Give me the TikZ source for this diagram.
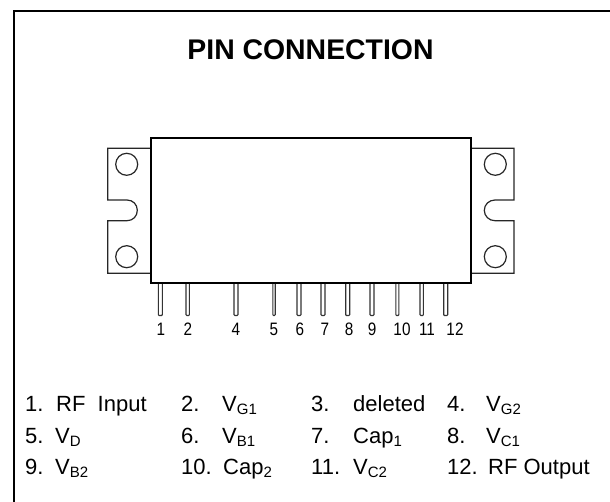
\documentclass[tikz,border=0pt]{standalone}
\usepackage{fontspec}
\setmainfont{Liberation Sans}
\newcommand\lowtxt[1]{\raisebox{-3pt}{\fontsize{15}{15}\selectfont #1}}
\tikzset{
  frameline/.style={line width=2pt,black},
  bodyline/.style={line width=1.8pt,black},
  earline/.style={line width=1.2pt,black!85},
  pinline/.style={line width=1.1pt,black!80,fill=white,rounded corners=0.8pt},
  titletxt/.style={inner sep=0pt,font=\fontsize{28.4}{30}\selectfont\bfseries},
  pinnum/.style={inner sep=0pt,anchor=base,xscale=0.85,font=\fontsize{18}{18}\selectfont},
  listtxt/.style={inner sep=0pt,anchor=base west,font=\fontsize{22}{24}\selectfont},
}
\begin{document}
\begin{tikzpicture}[x=1pt,y=-1pt]
\useasboundingbox (0,0) rectangle (610,502);
\draw[frameline] (13.5,502) -- (13.5,11.5) -- (610,11.5);
\node[titletxt] (title) at (310.5,50) {PIN CONNECTION};
% ears
\draw[earline] (151,148.3) -- (107.7,148.3) -- (107.7,200) -- (127,200)
  .. controls (133,200) and (137.3,204.5) .. (137.3,210.35)
  .. controls (137.3,216.2) and (133,220.7) .. (127,220.7)
  -- (107.7,220.7) -- (107.7,273.3) -- (151,273.3);
\draw[earline] (471,148.3) -- (514,148.3) -- (514,200) -- (495,200)
  .. controls (489,200) and (484.3,204.5) .. (484.3,210.35)
  .. controls (484.3,216.2) and (489,220.7) .. (495,220.7)
  -- (514,220.7) -- (514,273.3) -- (471,273.3);
\draw[earline] (126.7,164.3) circle[radius=11pt];
\draw[earline] (126.7,256.7) circle[radius=11pt];
\draw[earline] (495.3,164.3) circle[radius=11pt];
\draw[earline] (495.3,256.7) circle[radius=11pt];
% pins
\foreach \px/\hw in {160.3/2,187.7/1.7,236/2,274/1.2,299/2,323/2,347.7/2,372/2,397.3/1.5,421.7/1.7,445.7/2}{
  \draw[pinline] (\px-\hw,283) -- (\px-\hw,315.5) -- (\px+\hw,315.5) -- (\px+\hw,283);
}
% body
\draw[bodyline] (150.8,138.3) rectangle (471.3,282.7);
% pin numbers
\node[pinnum] (n1) at (161,336) {1};
\node[pinnum] (n2) at (188,336) {2};
\node[pinnum] (n4) at (236,336) {4};
\node[pinnum] (n5) at (274,336) {5};
\node[pinnum] (n6) at (300,336) {6};
\node[pinnum] (n7) at (325,336) {7};
\node[pinnum] (n8) at (349,336) {8};
\node[pinnum] (n9) at (372,336) {9};
\node[pinnum] (n10) at (402,336) {10};
\node[pinnum] (n11) at (427,336) {11};
\node[pinnum] (n12) at (455,336) {12};
% list
\node[listtxt] (a1) at (25,411) {1.};
\node[listtxt] (b1) at (56,411) {RF\ \ Input};
\node[listtxt] (a2) at (181,411) {2.};
\node[listtxt] (b2) at (222,411) {V\lowtxt{G1}};
\node[listtxt] (a3) at (311,411) {3.};
\node[listtxt] (b3) at (353,411) {deleted};
\node[listtxt] (a4) at (447,411) {4.};
\node[listtxt] (b4) at (486,411) {V\lowtxt{G2}};
\node[listtxt] (a5) at (25,443) {5.};
\node[listtxt] (b5) at (55,443) {V\lowtxt{D}};
\node[listtxt] (a6) at (181,443) {6.};
\node[listtxt] (b6) at (222,443) {V\lowtxt{B1}};
\node[listtxt] (a7) at (311,443) {7.};
\node[listtxt] (b7) at (353,443) {Cap\lowtxt{1}};
\node[listtxt] (a8) at (447,443) {8.};
\node[listtxt] (b8) at (486,443) {V\lowtxt{C1}};
\node[listtxt] (a9) at (25,474) {9.};
\node[listtxt] (b9) at (55,474) {V\lowtxt{B2}};
\node[listtxt] (a10) at (181,474) {10.};
\node[listtxt] (b10) at (223,474) {Cap\lowtxt{2}};
\node[listtxt] (a11) at (311,474) {11.};
\node[listtxt] (b11) at (353,474) {V\lowtxt{C2}};
\node[listtxt] (a12) at (447,474) {12.};
\node[listtxt] (b12) at (488,474) {RF Output};
\end{tikzpicture}
\end{document}
